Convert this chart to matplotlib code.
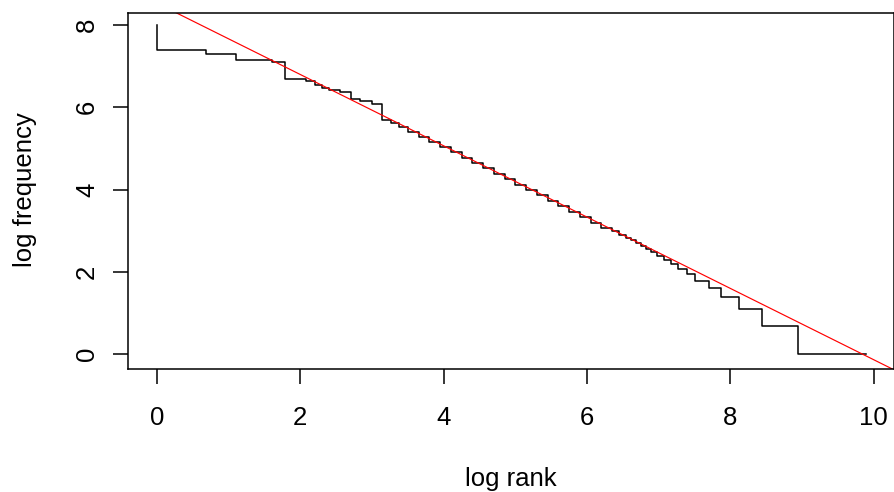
import matplotlib
matplotlib.use("Agg")
import matplotlib.pyplot as plt

plt.rcParams['font.family'] = ['Liberation Sans', 'DejaVu Sans']

# Zipf plot: log rank vs log frequency (steps)
log_rank = [0.00, 0.69, 1.10, 1.61, 1.79, 2.08, 2.20, 2.30, 2.40, 2.56,
            2.71, 2.83, 3.00, 3.14, 3.26, 3.38, 3.50, 3.65, 3.80, 3.95,
            4.10, 4.25, 4.40, 4.55, 4.70, 4.85, 5.00, 5.15, 5.30, 5.45,
            5.60, 5.75, 5.90, 6.05, 6.20, 6.35, 6.45, 6.55, 6.62, 6.69,
            6.76, 6.83, 6.90, 6.98, 7.07, 7.17, 7.27, 7.39, 7.51, 7.70,
            7.87, 8.12, 8.45, 8.94, 9.89]
log_freq = [8.00, 7.40, 7.29, 7.16, 7.09, 6.70, 6.63, 6.55, 6.47, 6.43,
            6.37, 6.20, 6.15, 6.07, 5.69, 5.62, 5.52, 5.40, 5.28, 5.16,
            5.04, 4.91, 4.78, 4.65, 4.52, 4.39, 4.25, 4.12, 3.99, 3.86,
            3.73, 3.60, 3.46, 3.33, 3.20, 3.07, 3.00, 2.89, 2.83, 2.77,
            2.71, 2.64, 2.56, 2.48, 2.40, 2.30, 2.20, 2.08, 1.95, 1.79,
            1.61, 1.39, 1.10, 0.69, 0.00]

# fitted regression line (abline)
fit_intercept = 8.53
fit_slope = -0.866

x_ticks = [0, 2, 4, 6, 8, 10]
y_ticks = [0, 2, 4, 6, 8]

W, H = 894, 492
fig = plt.figure(figsize=(W / 100, H / 100), dpi=100)
ax = fig.add_axes([128 / W, 1 - 369.3 / H, (894.3 - 128) / W, (369.3 - 12.7) / H])

ax.plot(log_rank, log_freq, drawstyle='steps-pre', color='black', lw=1.1)
ax.axline((0, fit_intercept), slope=fit_slope, color='red', lw=0.85)

ax.set_xlim(-0.405, 10.29)
ax.set_ylim(-0.365, 8.30)

ax.set_xticks(x_ticks)
ax.set_yticks(y_ticks)
for s in ax.spines.values():
    s.set_linewidth(1.1)
    s.set_color('black')
ax.tick_params(direction='out', length=10.8, width=1.1, labelsize=18.5, colors='black')
ax.tick_params(axis='x', pad=15.4)
ax.tick_params(axis='y', pad=10)
for lab in ax.get_yticklabels():
    lab.set_rotation(90)
    lab.set_va('center')

fig.text(511 / W, 1 - 479 / H, 'log rank', ha='center', va='center', fontsize=18.5)
fig.text(25 / W, 1 - 190 / H, 'log frequency', ha='center', va='center',
         rotation=90, fontsize=18.5)

fig.savefig('out.png', dpi=100)
